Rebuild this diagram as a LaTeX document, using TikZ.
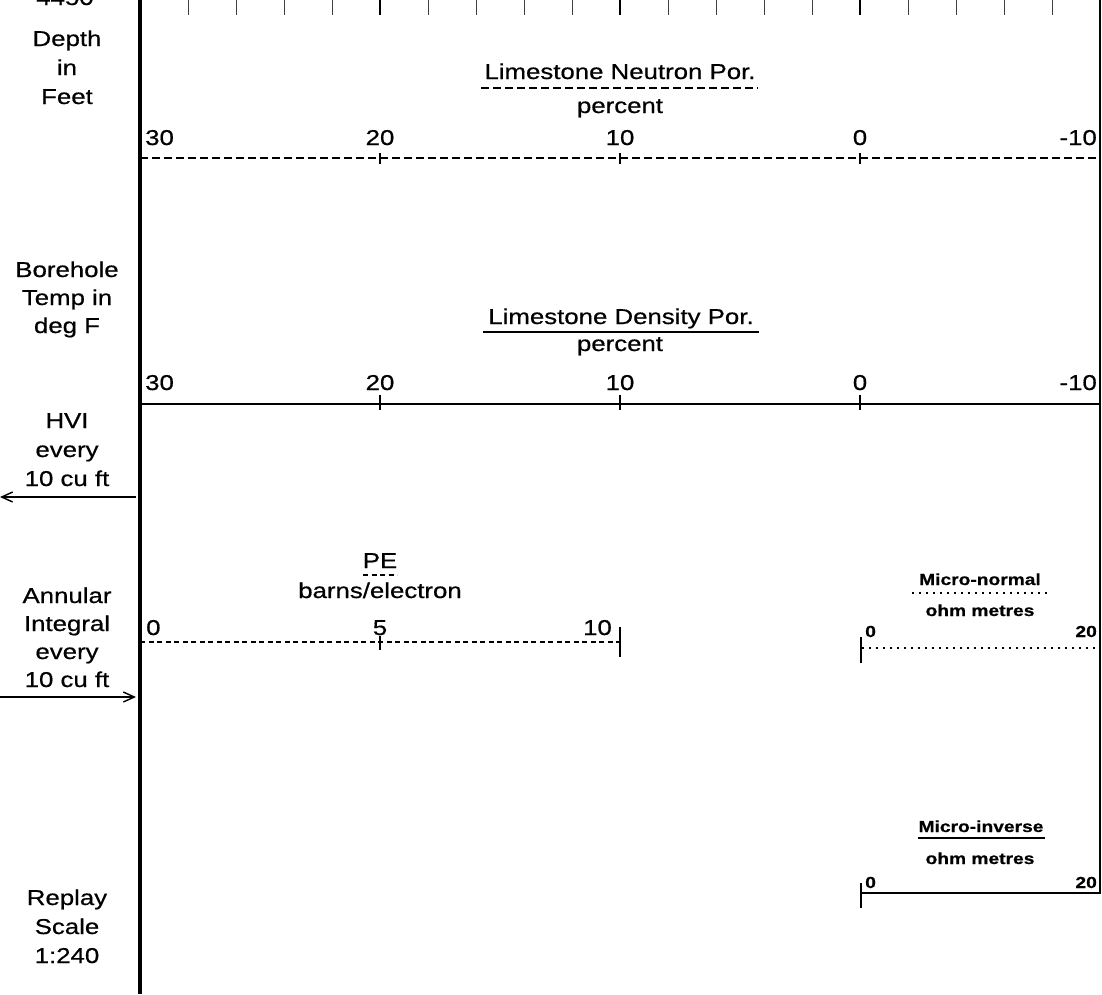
\documentclass[tikz,border=0pt]{standalone}
\usepackage{fontspec}
\setmainfont{Liberation Sans}[FakeStretch=1.2, FakeBold=0.6]
\usetikzlibrary{arrows.meta}
\begin{document}
\begin{tikzpicture}[x=1pt,y=-1pt,
  lbl/.style={inner sep=0pt, anchor=base, font=\fontsize{21.5}{21.5}\selectfont},
  lblw/.style={lbl, anchor=base west},
  lble/.style={lbl, anchor=base east},
  sml/.style={inner sep=0pt, anchor=base, font=\fontsize{16}{16}\selectfont\bfseries},
  smlw/.style={sml, anchor=base west},
  smle/.style={sml, anchor=base east},
  border/.style={line width=3.5pt},
  thintick/.style={line width=0.9pt, black!75},
  boldtick/.style={line width=1.8pt},
  scaletick/.style={line width=1.4pt},
  ndash/.style={line width=1.8pt, dash pattern=on 7.5pt off 4.5pt},
  pedash/.style={line width=1.2pt, dash pattern=on 5pt off 3.5pt},
  mdot/.style={line width=2.4pt, dash pattern=on 2.4pt off 4.6pt},
  arr/.style={line width=1.4pt}
]
\useasboundingbox (0,0) rectangle (1102,994);

% frame lines
\coordinate (mtop) at (140,0);
\coordinate (mbot) at (140,994);
\draw[border] (mtop) -- (mbot);
\coordinate (rtop) at (1100,0);
\coordinate (rbot) at (1100,894);
\draw[line width=2.5pt] (rtop) -- (rbot);

% top tick row
\foreach \k in {1,...,19}{
  \pgfmathsetmacro{\xx}{140+48*\k}
  \coordinate (ta\k) at (\xx,0);
  \coordinate (tb\k) at (\xx,15);
  \draw[thintick] (ta\k) -- (tb\k);
}
\foreach \k in {5,10,15}{
  \draw[boldtick] (ta\k) -- (tb\k);
}

% left labels
\node[lbl] (n4450) at (65,5) {4450};
\node[lbl] (depth) at (67,46) {Depth};
\node[lbl] (in) at (67,75) {in};
\node[lbl] (feet) at (67,104) {Feet};

\node[lbl] (bore) at (67,277) {Borehole};
\node[lbl] (temp) at (67,305) {Temp in};
\node[lbl] (degf) at (67,333) {deg F};

\node[lbl] (hvi) at (67,428) {HVI};
\node[lbl] (hevery) at (67,457) {every};
\node[lbl] (hcu) at (67,486) {10 cu ft};

\node[lbl] (ann) at (67,603) {Annular};
\node[lbl] (integ) at (67,631) {Integral};
\node[lbl] (aevery) at (67,659) {every};
\node[lbl] (acu) at (67,687) {10 cu ft};

\node[lbl] (replay) at (67,905) {Replay};
\node[lbl] (scale) at (67,934) {Scale};
\node[lbl] (ratio) at (67,963) {1:240};

% arrows
\coordinate (hvia) at (136,497);
\coordinate (hvib) at (0,497);
\draw[arr, -{Straight Barb[length=11pt,width=10pt]}] (hvia) -- (hvib);
\coordinate (anna) at (0,697);
\coordinate (annb) at (136,697);
\draw[arr, -{Straight Barb[length=11pt,width=10pt]}] (anna) -- (annb);

% Neutron porosity
\node[lbl] (ntitle) at (620,79) {Limestone Neutron Por.};
\coordinate (nu1) at (481,88);
\coordinate (nu2) at (758,88);
\draw[ndash] (nu1) -- (nu2);
\node[lbl] (npct) at (620,113) {percent};
\node[lblw] (n30) at (145,145) {30};
\node[lbl] (n20) at (380,145) {20};
\node[lbl] (n10) at (620,145) {10};
\node[lbl] (n0) at (860,145) {0};
\node[lble] (nm10) at (1097,145) {-10};
\coordinate (nl1) at (140,158);
\coordinate (nl2) at (1100,158);
\draw[ndash] (nl1) -- (nl2);
\foreach \xx/\nm in {380/a,620/b,860/c}{
  \coordinate (nt\nm1) at (\xx,153);
  \coordinate (nt\nm2) at (\xx,164);
  \draw[scaletick] (nt\nm1) -- (nt\nm2);
}

% Density porosity
\node[lbl] (dtitle) at (621,324) {Limestone Density Por.};
\coordinate (du1) at (483,332);
\coordinate (du2) at (759,332);
\draw[line width=2.4pt] (du1) -- (du2);
\node[lbl] (dpct) at (620,351) {percent};
\node[lblw] (d30) at (145,390) {30};
\node[lbl] (d20) at (380,390) {20};
\node[lbl] (d10) at (620,390) {10};
\node[lbl] (d0) at (860,390) {0};
\node[lble] (dm10) at (1097,390) {-10};
\coordinate (dl1) at (140,404);
\coordinate (dl2) at (1100,404);
\draw[line width=2.4pt] (dl1) -- (dl2);
\foreach \xx/\nm in {380/a,620/b,860/c}{
  \coordinate (dt\nm1) at (\xx,395);
  \coordinate (dt\nm2) at (\xx,410);
  \draw[scaletick] (dt\nm1) -- (dt\nm2);
}

% PE
\node[lbl] (pe) at (380,568) {PE};
\coordinate (pu1) at (363,575);
\coordinate (pu2) at (397,575);
\draw[pedash] (pu1) -- (pu2);
\node[lbl] (barns) at (380,598) {barns/electron};
\node[lblw] (p0) at (146,635) {0};
\node[lbl] (p5) at (380,635) {5};
\node[lble] (p10) at (612,635) {10};
\coordinate (pl1) at (140,642);
\coordinate (pl2) at (620,642);
\draw[pedash] (pl1) -- (pl2);
\coordinate (pta) at (380,636);
\coordinate (ptb) at (380,650);
\draw[scaletick] (pta) -- (ptb);
\coordinate (pea) at (620,627);
\coordinate (peb) at (620,657);
\draw[scaletick] (pea) -- (peb);

% Micro-normal
\node[sml] (mn) at (980,585) {Micro-normal};
\coordinate (mu1) at (912,593);
\coordinate (mu2) at (1048,593);
\draw[mdot] (mu1) -- (mu2);
\node[sml] (mnohm) at (980,616) {ohm metres};
\node[smlw] (mn0) at (865,637) {0};
\node[smle] (mn20) at (1097,637) {20};
\coordinate (ml1) at (862,648);
\coordinate (ml2) at (1098,648);
\draw[mdot] (ml1) -- (ml2);
\coordinate (mta) at (861,637);
\coordinate (mtb) at (861,663);
\draw[scaletick] (mta) -- (mtb);

% Micro-inverse
\node[sml] (mi) at (981,832) {Micro-inverse};
\coordinate (iu1) at (918,838);
\coordinate (iu2) at (1045,838);
\draw[line width=2pt] (iu1) -- (iu2);
\node[sml] (miohm) at (980,864) {ohm metres};
\node[smlw] (mi0) at (865,888) {0};
\node[smle] (mi20) at (1097,888) {20};
\coordinate (il1) at (862,893);
\coordinate (il2) at (1100,893);
\draw[line width=1.8pt] (il1) -- (il2);
\coordinate (ita) at (861,883);
\coordinate (itb) at (861,908);
\draw[scaletick] (ita) -- (itb);
\end{tikzpicture}
\end{document}
